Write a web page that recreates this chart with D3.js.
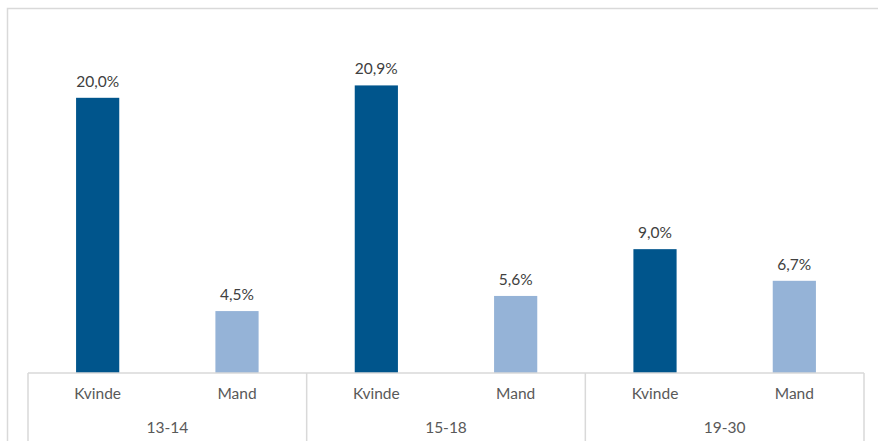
<!DOCTYPE html>
<head>
<style>
  body { margin: 0; background: #fff; }
  text { font-family: "Lato", "Open Sans", sans-serif; }
</style>
</head>
<body>
<svg width="878" height="441"></svg>
<script src="https://cdn.jsdelivr.net/npm/d3@7"></script>
<script>

var groups = ["13-14", "15-18", "19-30"];
var genders = ["Kvinde", "Mand"];
var kvinde = [20.0, 20.9, 9.0];
var mand = [4.5, 5.6, 6.7];
var colors = ["#00558c", "#95b3d7"];

var svg = d3.select("svg"),
    margin = {top: 29, right: 14, bottom: 68, left: 28},
    width = 878 - margin.left - margin.right,
    height = 441 - margin.top - margin.bottom;

// outer chart frame (clipped on right/bottom)
svg.append("path")
    .attr("d", "M7.5,460V8.5H900")
    .attr("fill", "none")
    .attr("stroke", "#d9d9d9")
    .attr("stroke-width", 1.5);

var g = svg.append("g").attr("transform", "translate(" + margin.left + "," + margin.top + ")");

var data = [];
groups.forEach(function(grp, i) {
  data.push({group: grp, gender: genders[0], value: kvinde[i]});
  data.push({group: grp, gender: genders[1], value: mand[i]});
});

var x0 = d3.scaleBand().domain(groups).range([0, width]);
var x1 = d3.scaleBand().domain(genders).range([0, x0.bandwidth()]).paddingInner(0.69).paddingOuter(0.345);
var y = d3.scaleLinear().domain([0, 25]).range([height, 0]);
var color = d3.scaleOrdinal().domain(genders).range(colors);

var bars = g.selectAll(".bar").data(data).enter().append("g")
    .attr("transform", function(d) { return "translate(" + x0(d.group) + ",0)"; });

bars.append("rect")
    .attr("x", function(d) { return x1(d.gender); })
    .attr("y", function(d) { return y(d.value); })
    .attr("width", x1.bandwidth())
    .attr("height", function(d) { return height - y(d.value); })
    .attr("fill", function(d) { return color(d.gender); });

bars.append("text")
    .attr("x", function(d) { return x1(d.gender) + x1.bandwidth() / 2; })
    .attr("y", function(d) { return y(d.value) - 11; })
    .attr("text-anchor", "middle")
    .attr("fill", "#404040")
    .style("font-size", "15.5px")
    .text(function(d) { return d.value.toFixed(1).replace(".", ",") + "%"; });

// category axis
var axis = g.append("g").attr("transform", "translate(0," + height + ")");

axis.append("line")
    .attr("x1", 0).attr("x2", width)
    .attr("stroke", "#d9d9d9").attr("stroke-width", 1.5);

axis.selectAll(".sep").data(d3.range(groups.length + 1)).enter().append("line")
    .attr("x1", function(i) { return i < groups.length ? x0(groups[i]) : width; })
    .attr("x2", function(i) { return i < groups.length ? x0(groups[i]) : width; })
    .attr("y1", 0).attr("y2", 80)
    .attr("stroke", "#d9d9d9").attr("stroke-width", 1.5);

axis.selectAll(".sub").data(data).enter().append("text")
    .attr("x", function(d) { return x0(d.group) + x1(d.gender) + x1.bandwidth() / 2; })
    .attr("y", 26)
    .attr("text-anchor", "middle")
    .attr("fill", "#595959")
    .style("font-size", "15.5px")
    .text(function(d) { return d.gender; });

axis.selectAll(".grp").data(groups).enter().append("text")
    .attr("x", function(d) { return x0(d) + x0.bandwidth() / 2; })
    .attr("y", 60)
    .attr("text-anchor", "middle")
    .attr("fill", "#595959")
    .style("font-size", "15.5px")
    .text(function(d) { return d; });

</script>
</body>
